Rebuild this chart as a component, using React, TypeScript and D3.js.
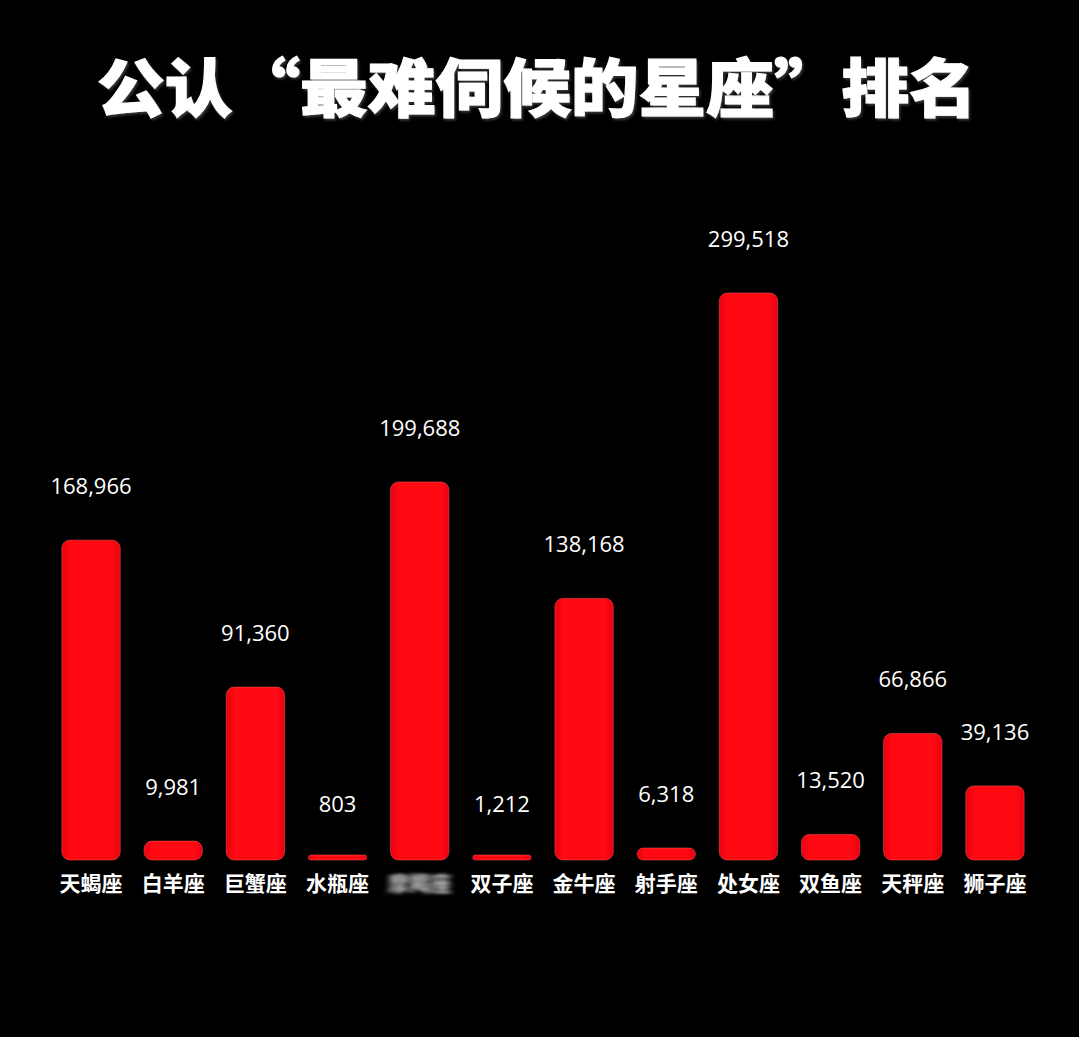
import React from "react";
import * as d3 from "d3";

const categories = ["天蝎座", "白羊座", "巨蟹座", "水瓶座", "摩羯座", "双子座", "金牛座", "射手座", "处女座", "双鱼座", "天秤座", "狮子座"];
const values = [168966, 9981, 91360, 803, 199688, 1212, 138168, 6318, 299518, 13520, 66866, 39136];
const blurredIndex = 4;
const title = "公认“最难伺候的星座”排名";

export default function App() {
  const W = 1079, H = 1037;
  const baseY = 860;
  const x = d3.scaleBand<string>().domain(categories).range([52, 1034]).paddingInner(0.29).paddingOuter(0.12);
  const y = d3.scaleLinear().domain([0, 299518]).range([baseY, 293]);
  const fmt = d3.format(",");
  const font = "'Noto Sans CJK SC', 'Noto Sans', sans-serif";
  return (
    <svg width={W} height={H} style={{ position: "absolute", left: 0, top: 0, background: "#000" }} fontFamily={font}>
      <defs>
        <linearGradient id="barG" x1="0" x2="1" y1="0" y2="0">
          <stop offset="0" stopColor="#e80010" />
          <stop offset="0.15" stopColor="#ff0a12" />
          <stop offset="0.85" stopColor="#ff0a12" />
          <stop offset="1" stopColor="#e80010" />
        </linearGradient>
        <filter id="blur" x="-20%" y="-50%" width="140%" height="200%">
          <feGaussianBlur stdDeviation="3 1.5" />
        </filter>
        <filter id="shadow" x="-5%" y="-20%" width="110%" height="140%">
          <feDropShadow dx="1.5" dy="2" stdDeviation="1" floodColor="#444" floodOpacity="0.8" />
        </filter>
      </defs>
      <rect x={0} y={0} width={W} height={H} fill="#000" />
      <text x={537} y={111} textAnchor="middle" fontSize={63} fontWeight={900} fill="#fff" stroke="#fff" strokeWidth={1.2}
        textLength={880} lengthAdjust="spacingAndGlyphs" filter="url(#shadow)">{title}</text>
      {categories.map((c, i) => {
        const bx = x(c)!;
        const bw = x.bandwidth();
        const top = Math.min(y(values[i]), baseY - 5);
        const h = baseY - top;
        const r = Math.min(8, h / 2);
        return (
          <g key={c}>
            <rect x={bx} y={top} width={bw} height={h} rx={r} ry={r} fill="url(#barG)" stroke="#ff5a5a" strokeOpacity={0.5} strokeWidth={1} />
            <text x={bx + bw / 2} y={y(values[i]) - 46} textAnchor="middle" fontSize={22} fontWeight={500} fill="#fff" fontFamily="'Open Sans', 'Noto Sans', sans-serif">{fmt(values[i])}</text>
            <text x={bx + bw / 2} y={891} textAnchor="middle" fontSize={21} fontWeight={700} fill="#fff"
              filter={i === blurredIndex ? "url(#blur)" : undefined} opacity={i === blurredIndex ? 0.8 : 1}>{c}</text>
          </g>
        );
      })}
    </svg>
  );
}
